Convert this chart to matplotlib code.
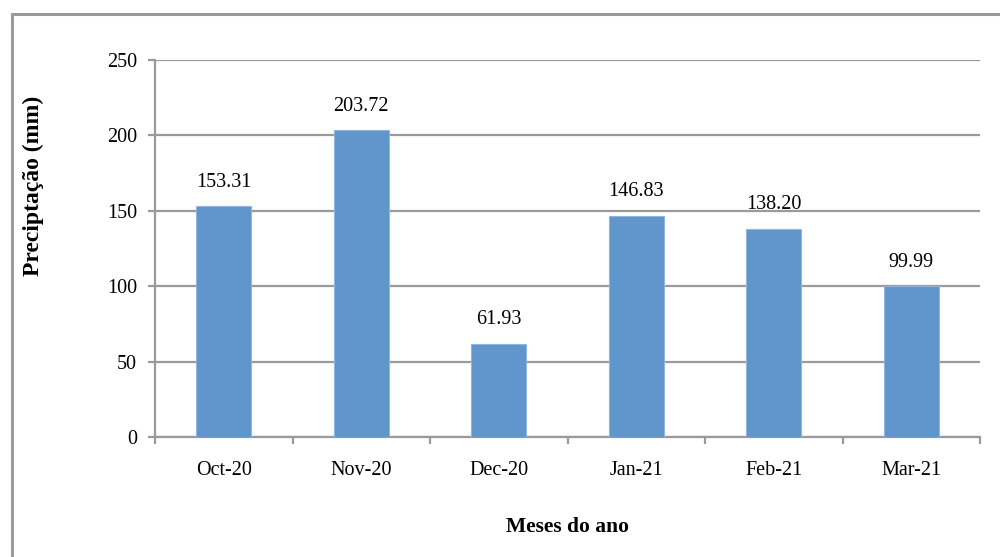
import numpy as np
import matplotlib.pyplot as plt
from matplotlib.patches import Rectangle

# data
meses = ["Oct-20", "Nov-20", "Dec-20", "Jan-21", "Feb-21", "Mar-21"]
precip = [153.31, 203.72, 61.93, 146.83, 138.20, 99.99]
yticks = [0, 50, 100, 150, 200, 250]

plt.rcParams['font.family'] = ['Liberation Serif', 'DejaVu Serif']

fig = plt.figure(figsize=(10, 5.57), dpi=100)
ax = fig.add_axes([0.155, 0.2154, 0.825, 0.677])

# outer frame (runs off the right and bottom edges)
fig.patches.append(Rectangle((0.012, -0.05), 1.2, 1.05 - 0.025, transform=fig.transFigure,
                             fill=False, edgecolor="#9a9a9a", linewidth=2.2))

x = np.arange(len(meses))
ax.bar(x, precip, width=0.4, color="#6096cb", edgecolor="#8fb6e0", linewidth=0.8, zorder=3)

for xi, v in zip(x, precip):
    ax.annotate(f"{v:.2f}", (xi, v), xytext=(0, 17), textcoords="offset points",
                ha="center", va="center", fontsize=14.5)

ax.set_xlim(-0.5, len(meses) - 0.5)
ax.set_ylim(0, 250)
ax.set_yticks(yticks)
ax.set_yticklabels([str(t) for t in yticks], fontsize=14.5)
ax.yaxis.grid(True, color="#9a9a9a", linewidth=1.6, zorder=0)
ax.set_axisbelow(True)

ax.set_xticks(x)
ax.set_xticklabels(meses, fontsize=14.5)
ax.tick_params(axis="x", length=0, pad=17)
ax.set_xticks(np.arange(-0.5, len(meses)), minor=True)
ax.tick_params(axis="x", which="minor", length=5, width=1.6, color="#9a9a9a", direction="out")
ax.tick_params(axis="y", length=5, width=1.6, color="#9a9a9a", pad=8)

for s in ["top", "right"]:
    ax.spines[s].set_visible(False)
for s in ["left", "bottom"]:
    ax.spines[s].set_color("#9a9a9a")
    ax.spines[s].set_linewidth(1.6)

ax.set_ylabel("Precipta\u00e7\u00e3o (mm)", fontsize=17, fontweight="bold")
ax.yaxis.set_label_coords(-0.1345, 0.666)
ax.set_xlabel("Meses do ano", fontsize=15.5, fontweight="bold", labelpad=27)

fig.savefig("out.png", dpi=100, facecolor="white")
